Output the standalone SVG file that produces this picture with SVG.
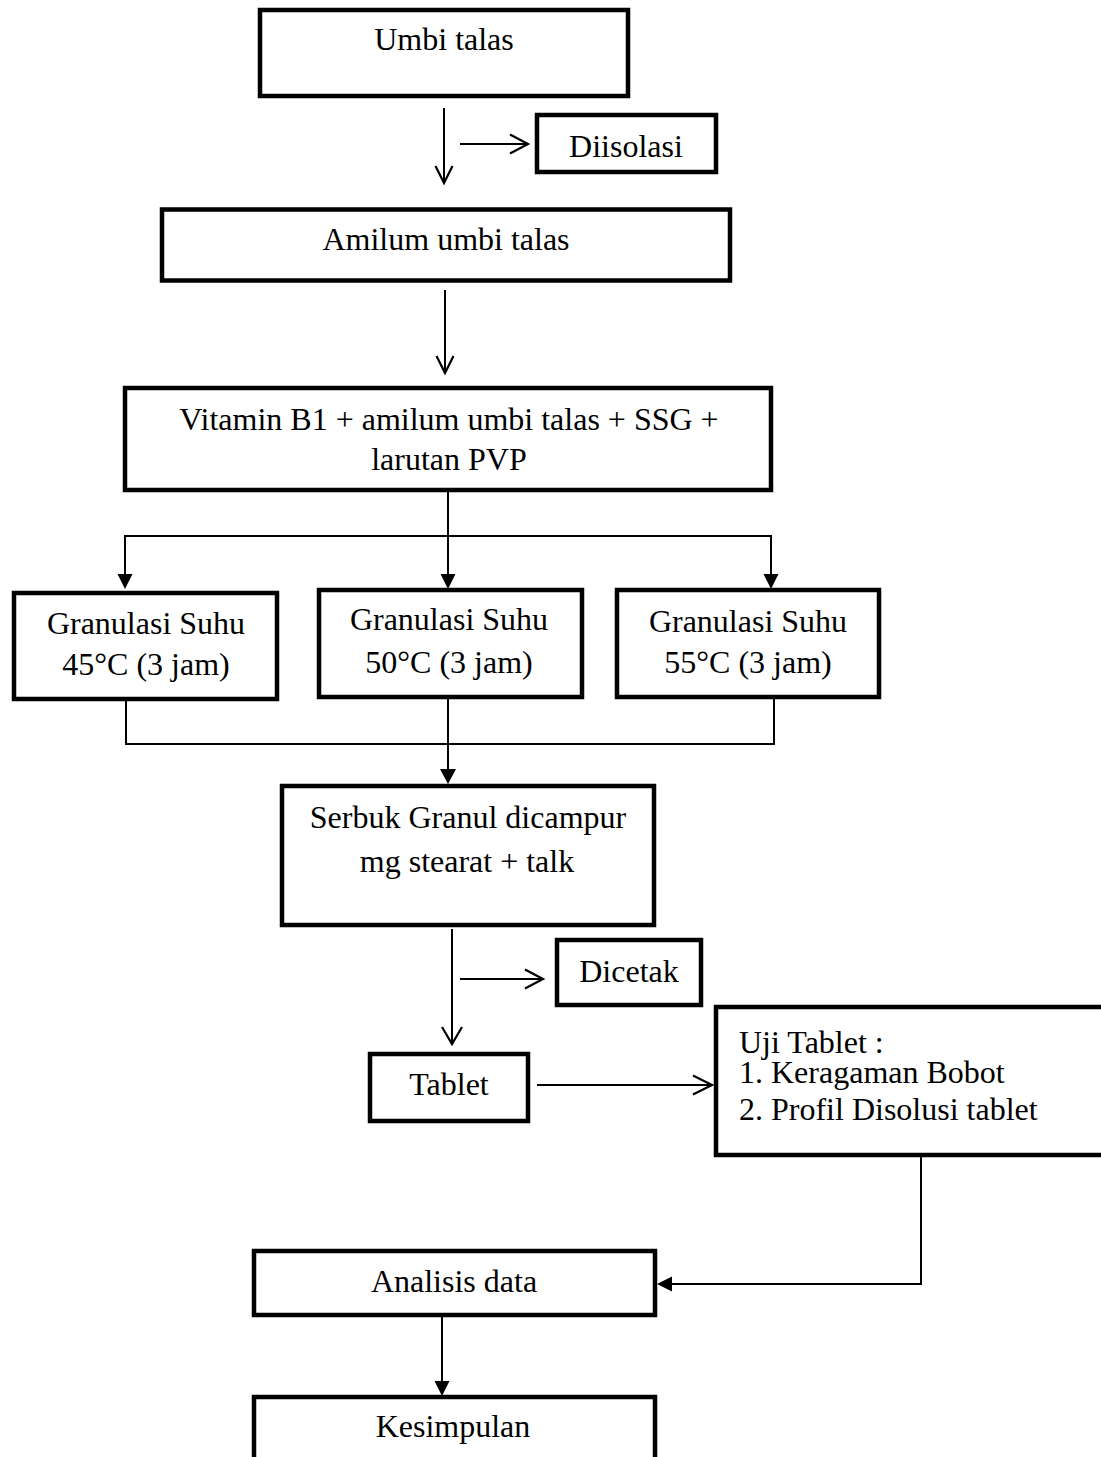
<svg xmlns="http://www.w3.org/2000/svg" width="1101" height="1457" viewBox="0 0 1101 1457">
<style>
.box{fill:#fff;stroke:#000;stroke-width:4.5;stroke-linejoin:miter}
.t{font-family:"Liberation Serif","Times New Roman",serif;font-size:32px;fill:#000;text-anchor:middle}
.tl{font-family:"Liberation Serif","Times New Roman",serif;font-size:32px;fill:#000;text-anchor:start}
.ln{fill:none;stroke:#000;stroke-width:2}
.head{fill:none;stroke:#000;stroke-width:2.2;stroke-linejoin:miter}
.fh{fill:#000;stroke:none}
</style>
<rect width="1101" height="1457" fill="#fff"/>
<g id="connectors">
  <line class="ln" x1="444" y1="108" x2="444" y2="182"/>
  <polyline class="head" points="435.5,166 444,183 452.5,166"/>
  <line class="ln" x1="460" y1="144" x2="527" y2="144"/>
  <polyline class="head" points="510,134.5 528,144 510,153.5"/>
  <line class="ln" x1="445" y1="290" x2="445" y2="372"/>
  <polyline class="head" points="436.5,356 445,373 453.5,356"/>
  <line class="ln" x1="448" y1="490" x2="448" y2="576"/>
  <polyline class="ln" points="125,576 125,536 771,536 771,576"/>
  <polygon class="fh" points="117.5,574 132.5,574 125,589"/>
  <polygon class="fh" points="440.5,574 455.5,574 448,589"/>
  <polygon class="fh" points="763.5,574 778.5,574 771,589"/>
  <polyline class="ln" points="126,700 126,744 774,744 774,699"/>
  <line class="ln" x1="448" y1="699" x2="448" y2="772"/>
  <polygon class="fh" points="440,769 456,769 448,784"/>
  <line class="ln" x1="452" y1="929" x2="452" y2="1043"/>
  <polyline class="head" points="442,1027 452,1044 462,1027"/>
  <line class="ln" x1="460" y1="979" x2="542" y2="979"/>
  <polyline class="head" points="525,969.5 543,979 525,988.5"/>
  <line class="ln" x1="537" y1="1085" x2="711" y2="1085"/>
  <polyline class="head" points="693,1075.5 712,1085 693,1094.5"/>
  <polyline class="ln" points="921,1157 921,1284 670,1284"/>
  <polygon class="fh" points="657,1284 672,1276.5 672,1291.5"/>
  <line class="ln" x1="442" y1="1310" x2="442" y2="1383"/>
  <polygon class="fh" points="434.5,1381 449.5,1381 442,1396"/>
</g>
<g id="umbi-talas">
  <rect class="box" x="260" y="10" width="368" height="86"/>
  <text class="t" x="444" y="50">Umbi talas</text>
</g>
<g id="diisolasi">
  <rect class="box" x="537" y="115" width="179" height="57"/>
  <text class="t" x="626" y="157">Diisolasi</text>
</g>
<g id="amilum">
  <rect class="box" x="162" y="209.5" width="568" height="71"/>
  <text class="t" x="446" y="250">Amilum umbi talas</text>
</g>
<g id="campuran">
  <rect class="box" x="125" y="388" width="646" height="102"/>
  <text class="t" x="449" y="430">Vitamin B1 + amilum umbi talas + SSG +</text>
  <text class="t" x="449" y="470">larutan PVP</text>
</g>
<g id="granulasi-45">
  <rect class="box" x="14" y="593" width="263" height="106"/>
  <text class="t" x="146" y="634">Granulasi Suhu</text>
  <text class="t" x="146" y="675">45°C (3 jam)</text>
</g>
<g id="granulasi-50">
  <rect class="box" x="319" y="590" width="263" height="107"/>
  <text class="t" x="449" y="630">Granulasi Suhu</text>
  <text class="t" x="449" y="673">50°C (3 jam)</text>
</g>
<g id="granulasi-55">
  <rect class="box" x="617" y="590" width="262" height="107"/>
  <text class="t" x="748" y="632">Granulasi Suhu</text>
  <text class="t" x="748" y="673">55°C (3 jam)</text>
</g>
<g id="serbuk">
  <rect class="box" x="282" y="786" width="372" height="139"/>
  <text class="t" x="468" y="828">Serbuk Granul dicampur</text>
  <text class="t" x="467" y="872">mg stearat + talk</text>
</g>
<g id="dicetak">
  <rect class="box" x="557" y="940" width="144" height="65"/>
  <text class="t" x="629" y="982">Dicetak</text>
</g>
<g id="tablet">
  <rect class="box" x="370" y="1054" width="158" height="67"/>
  <text class="t" x="449" y="1095">Tablet</text>
</g>
<g id="uji-tablet">
  <rect class="box" x="716" y="1007" width="390" height="148"/>
  <text class="tl" x="739" y="1053">Uji Tablet :</text>
  <text class="tl" x="739" y="1083">1. Keragaman Bobot</text>
  <text class="tl" x="739" y="1120">2. Profil Disolusi tablet</text>
</g>
<g id="analisis">
  <rect class="box" x="254" y="1251" width="401" height="64"/>
  <text class="t" x="454" y="1292">Analisis data</text>
</g>
<g id="kesimpulan">
  <rect class="box" x="254" y="1397" width="401" height="90"/>
  <text class="t" x="453" y="1437">Kesimpulan</text>
</g>
</svg>
